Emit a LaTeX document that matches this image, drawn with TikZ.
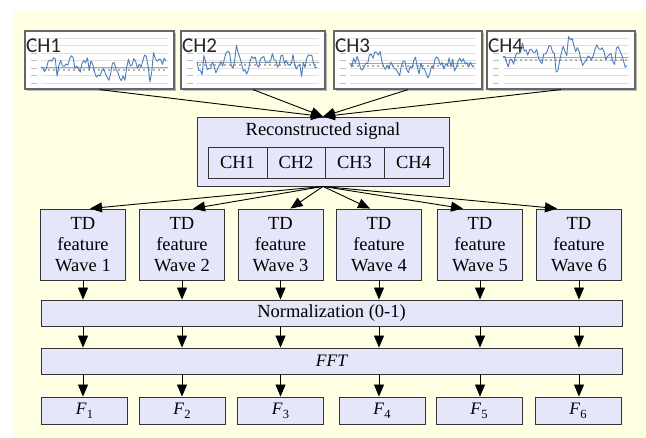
\documentclass[tikz,border=0pt]{standalone}
\usepackage{fontspec}
\setmainfont{Liberation Serif}
\newfontfamily\chfont{Carlito}
\usetikzlibrary{arrows.meta,shadows,calc}
\definecolor{bgyellow}{HTML}{FFFFE3}
\definecolor{lav}{HTML}{E6E6FA}
\definecolor{edgegray}{HTML}{333333}
\definecolor{chartblue}{HTML}{4A7EBB}
\newcount\chk
\newcommand\mychart[6]{% x0, y0, w, zero, seed, label
  \foreach \g in {7,14.5,22,29.5,37,44.5,52}{
    \draw[gray!25, line width=0.4pt] (#1+16,#2+\g) -- (#1+#3-6,#2+\g);
  }
  \draw[gray!70, line width=0.6pt] (#1+16,#4) -- (#1+#3-6,#4);
  \draw[gray!60, line width=1.2pt, dash pattern=on 1.5pt off 3.5pt] (#1+18,#4+3) -- (#1+#3-8,#4+3);
  \foreach \g in {7,14.5,22,29.5,37,44.5,52}{
    \draw[gray!50, line width=0.9pt] (#1+6,#2+\g) -- (#1+12,#2+\g);
  }
  \pgfmathsetseed{#5}%
  \def\chyv{0}%
  \pgfmathparse{#1+16}\let\chxv\pgfmathresult
  \edef\chpts{(\chxv,#4)}%
  \chk=1
  \loop
    \pgfmathparse{max(-15,min(27, 0.6*\chyv + 8.5*rand + 15*(rand>0.75)*rand))}%
    \let\chyv\pgfmathresult
    \pgfmathparse{#1+16+\the\chk*(#3-24)/70}\let\chxv\pgfmathresult
    \pgfmathparse{#4-\chyv}\let\chyp\pgfmathresult
    \edef\chpts{\chpts -- (\chxv,\chyp)}%
    \advance\chk by 1
  \ifnum\chk<71 \repeat
  \edef\chdo{\noexpand\draw[chartblue, line width=0.9pt, line join=round] \chpts;}%
  \chdo
  \node[anchor=west, inner sep=0pt, text=black!85] at (#1+1,#2+15)
    {\chfont\fontsize{21}{21}\selectfont #6};
}
\begin{document}
\begin{tikzpicture}[x=1pt,y=-1pt,
  every node/.style={font=\fontsize{18.5}{21}\selectfont},
  panel/.style={draw=gray!80!black, line width=1.2pt, fill=white, inner sep=0pt,
    drop shadow={shadow xshift=1.5pt, shadow yshift=-1.8pt, fill=gray!55, opacity=1}},
  box/.style={draw=edgegray, line width=0.9pt, fill=lav, inner sep=0pt},
  cellbox/.style={draw=edgegray, line width=0.9pt, inner sep=0pt,
    minimum height=31pt, minimum width=59pt},
  tdbox/.style={box, minimum width=85pt, minimum height=71pt, align=center},
  fbox/.style={box, minimum width=86pt, minimum height=27pt},
  wide/.style={box, minimum width=581pt, minimum height=26pt},
  arr/.style={line width=0.9pt, -{Triangle[length=12pt,width=10pt]}}]
\useasboundingbox (0,0) rectangle (646,438);
\fill[bgyellow] (13,10) rectangle (646,438);

% chart panels
\node[panel, minimum width=149pt, minimum height=58pt] (ch1) at (99.5,60) {};
\node[panel, minimum width=144pt, minimum height=58pt] (ch2) at (253,60) {};
\node[panel, minimum width=148pt, minimum height=58pt] (ch3) at (408,60) {};
\node[panel, minimum width=148pt, minimum height=58pt] (ch4) at (561,60) {};
\mychart{25}{31}{149}{67}{7}{CH1}
\mychart{181}{31}{144}{62}{23}{CH2}
\mychart{334}{31}{148}{63}{41}{CH3}
\mychart{487}{31}{148}{57}{59}{CH4}

% reconstructed signal
\node[box, minimum width=252pt, minimum height=69pt] (rec) at (323,151.5) {};
\node[inner sep=0pt] (rectitle) at (323,131) {Reconstructed signal};
\node[cellbox] (c1) at (237.5,162.5) {CH1};
\node[cellbox, minimum width=58pt] (c2) at (296,162.5) {CH2};
\node[cellbox] (c3) at (354.5,162.5) {CH3};
\node[cellbox] (c4) at (413.5,162.5) {CH4};

% TD boxes
\node[tdbox] (td1) at (83,244.5) {TD\\feature\\Wave 1};
\node[tdbox] (td2) at (182,244.5) {TD\\feature\\Wave 2};
\node[tdbox] (td3) at (280.5,244.5) {TD\\feature\\Wave 3};
\node[tdbox] (td4) at (379,244.5) {TD\\feature\\Wave 4};
\node[tdbox] (td5) at (480,244.5) {TD\\feature\\Wave 5};
\node[tdbox] (td6) at (579,244.5) {TD\\feature\\Wave 6};

\node[wide] (norm) at (331.5,313) {Normalization (0-1)};
\node[wide] (fft) at (331.5,361) {\fontsize{17.5}{20}\selectfont\itshape FFT};

\foreach \i/\x in {1/84.5,2/182,3/280.5,4/382,5/479,6/578}{
  \node[fbox] (f\i) at (\x,410.5)
    {\fontsize{17.5}{20}\selectfont\itshape F\/\upshape\raisebox{-4pt}{\fontsize{12.5}{12}\selectfont\i}};
}

% arrows
\foreach \i in {1,2,3,4}{
  \draw[arr] (ch\i.south) -- (rec.north);
}
\draw[arr] (rec.south) -- ($(td1.north)+(7,0)$);
\draw[arr] (rec.south) -- ($(td2.north)+(11,0)$);
\draw[arr] (rec.south) -- ($(td3.north)+(10,0)$);
\draw[arr] (rec.south) -- ($(td4.north)+(-9,0)$);
\draw[arr] (rec.south) -- ($(td5.north)+(-17,0)$);
\draw[arr] (rec.south) -- ($(td6.north)+(-22,0)$);
\foreach \i in {1,...,6}{
  \draw[arr] (td\i.south) -- (td\i.south |- norm.north);
  \draw[arr] (td\i.south |- norm.south) -- (td\i.south |- fft.north);
  \draw[arr] (td\i.south |- fft.south) -- (f\i.north -| td\i.south);
}
\end{tikzpicture}
\end{document}
